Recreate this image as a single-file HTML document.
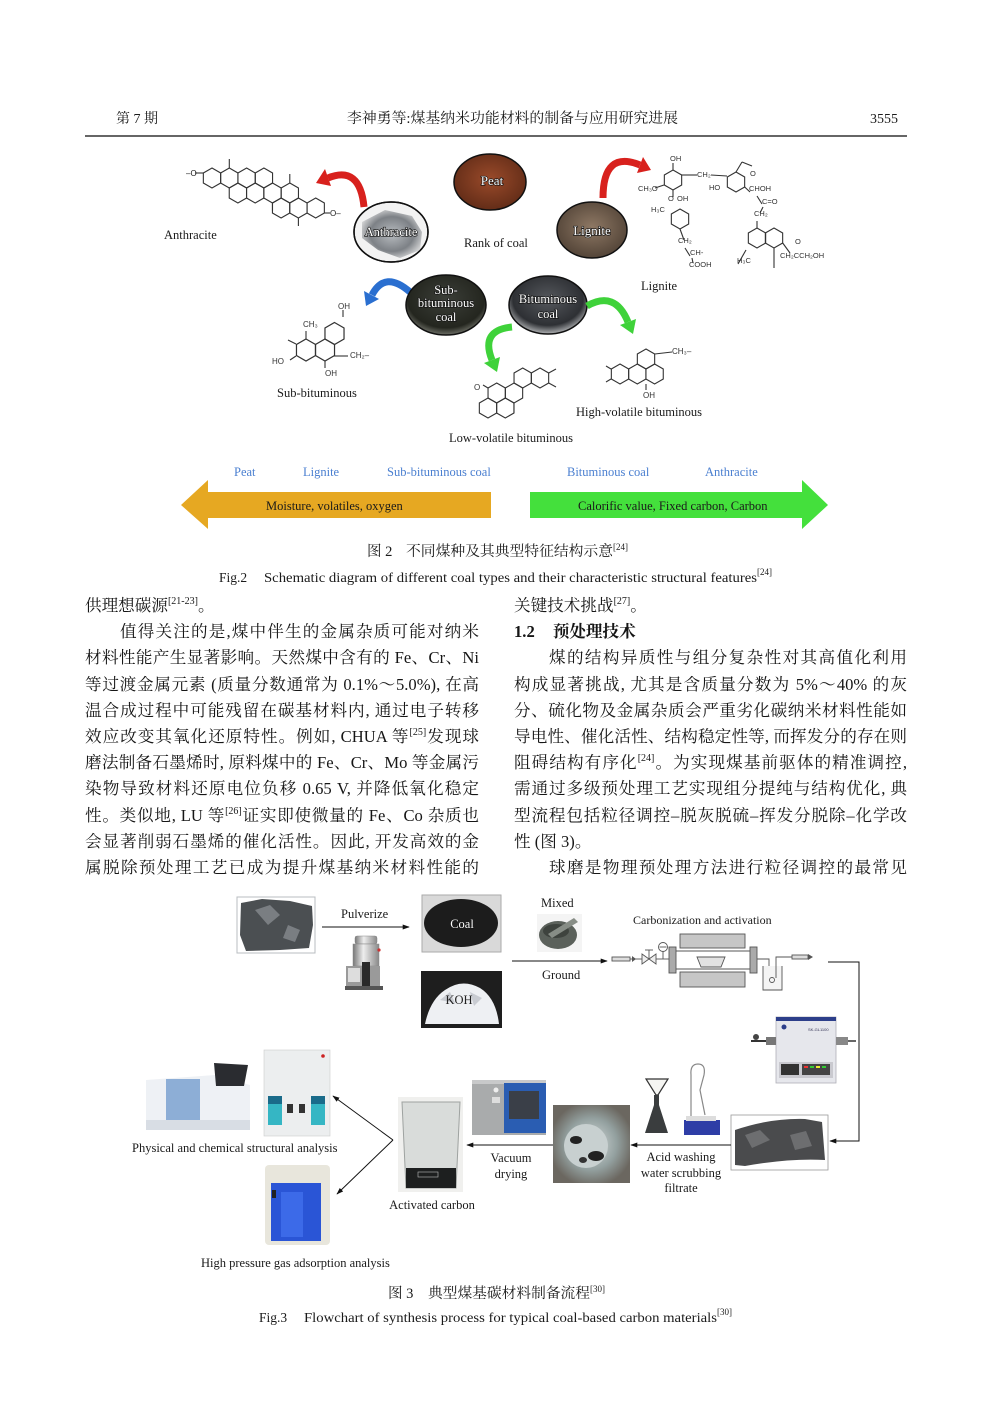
<!DOCTYPE html>
<html><head><meta charset="utf-8">
<style>
html,body{margin:0;padding:0;background:#fff;}
body{width:992px;height:1403px;position:relative;overflow:hidden;}
svg{position:absolute;left:0;top:0;}
.col{position:absolute;top:593px;font-family:"Liberation Serif","Noto Serif CJK SC",serif;font-size:16.6px;line-height:26.2px;color:#161616;}
.col div{height:26.2px;text-align:justify;text-align-last:justify;}
.col div.l{text-align:left;text-align-last:left;}
.col div.i{text-indent:35px;}
.s{font-size:10px;position:relative;top:-7px;line-height:0;}
</style></head>
<body>
<svg width="992" height="1403" viewBox="0 0 992 1403" xmlns="http://www.w3.org/2000/svg" font-family="Liberation Serif, Noto Serif CJK SC, serif" fill="#1a1a1a">
<defs>
<polygon id="hx" points="0,-10 8.66,-5 8.66,5 0,10 -8.66,5 -8.66,-5" fill="none" stroke="#333" stroke-width="1.1"/>
<marker id="ah" viewBox="0 0 10 10" refX="9" refY="5" markerWidth="7" markerHeight="7" orient="auto"><path d="M0,1.5 L10,5 L0,8.5 z" fill="#111"/></marker>
<radialGradient id="gAnth" cx="50%" cy="50%" r="60%"><stop offset="0" stop-color="#b8bcc0"/><stop offset="0.6" stop-color="#7d8186"/><stop offset="1" stop-color="#e8e8e8"/></radialGradient>
<radialGradient id="gPeat" cx="50%" cy="45%" r="60%"><stop offset="0" stop-color="#9a4a2a"/><stop offset="1" stop-color="#5e2a16"/></radialGradient>
<radialGradient id="gLig" cx="50%" cy="45%" r="60%"><stop offset="0" stop-color="#8e7864"/><stop offset="1" stop-color="#4e4034"/></radialGradient>
<radialGradient id="gSub" cx="50%" cy="40%" r="60%"><stop offset="0" stop-color="#3b3e38"/><stop offset="0.8" stop-color="#24261f"/><stop offset="1" stop-color="#6d6f66"/></radialGradient>
<radialGradient id="gBit" cx="50%" cy="40%" r="60%"><stop offset="0" stop-color="#55585d"/><stop offset="0.75" stop-color="#2e3034"/><stop offset="1" stop-color="#b0b2b4"/></radialGradient>
<radialGradient id="gBeak" cx="50%" cy="50%" r="55%"><stop offset="0" stop-color="#d6dcdc"/><stop offset="0.6" stop-color="#93a09f"/><stop offset="1" stop-color="#6b6760"/></radialGradient>
<linearGradient id="gSil" x1="0" x2="1"><stop offset="0" stop-color="#777"/><stop offset="0.4" stop-color="#eee"/><stop offset="1" stop-color="#888"/></linearGradient>
</defs>

<!-- Header -->
<text x="116" y="123" font-size="14">第 7 期</text>
<text x="347" y="123" font-size="14.5" textLength="331" lengthAdjust="spacingAndGlyphs">李神勇等:煤基纳米功能材料的制备与应用研究进展</text>
<text x="898" y="123" font-size="14" text-anchor="end">3555</text>
<line x1="85" y1="136" x2="907" y2="136" stroke="#333" stroke-width="1.4"/>

<!-- ===== Figure 2 ===== -->
<g>
<use href="#hx" x="212" y="178"/><use href="#hx" x="229.3" y="178"/><use href="#hx" x="246.6" y="178"/><use href="#hx" x="263.9" y="178"/>
<use href="#hx" x="237.9" y="193"/><use href="#hx" x="255.2" y="193"/><use href="#hx" x="272.5" y="193"/><use href="#hx" x="289.8" y="193"/>
<use href="#hx" x="281.1" y="208"/><use href="#hx" x="298.4" y="208"/><use href="#hx" x="315.7" y="208"/>
<g stroke="#333" stroke-width="1.1"><line x1="229.3" y1="168" x2="229.3" y2="159"/><line x1="272.5" y1="203" x2="272.5" y2="211"/><line x1="289.8" y1="183" x2="289.8" y2="174"/><line x1="298.4" y1="218" x2="298.4" y2="226"/><line x1="195" y1="173" x2="203.3" y2="173"/><line x1="324.4" y1="213" x2="330" y2="213"/></g>
<text x="186" y="176" font-size="8" font-family="Liberation Sans, sans-serif">–O</text>
<text x="330" y="216" font-size="8" font-family="Liberation Sans, sans-serif">O–</text>
</g>
<text x="164" y="239" font-size="12.5">Anthracite</text>

<path d="M364,207 Q360,165 328,178" fill="none" stroke="#d8211d" stroke-width="7"/>
<polygon points="316,183 331,186 325,169" fill="#d8211d"/>

<ellipse cx="391" cy="232" rx="37" ry="30" fill="#f2f2f2" stroke="#111" stroke-width="1.5"/>
<path d="M362,222 L385,210 L412,216 L422,232 L420,250 L400,258 L378,250 L362,238 z" fill="url(#gAnth)"/>
<ellipse cx="391" cy="232" rx="37" ry="30" fill="none" stroke="#111" stroke-width="1.5"/>
<text x="391" y="236" font-size="12.5" text-anchor="middle" fill="#fff" stroke="#111" stroke-width="1.2" paint-order="stroke">Anthracite</text>

<ellipse cx="490" cy="182" rx="36" ry="28" fill="url(#gPeat)" stroke="#111" stroke-width="1.5"/>
<text x="492" y="185" font-size="13" text-anchor="middle" fill="#fff" stroke="#111" stroke-width="1.2" paint-order="stroke">Peat</text>
<text x="464" y="247" font-size="12.5">Rank of coal</text>

<ellipse cx="592" cy="230" rx="35" ry="28" fill="url(#gLig)" stroke="#111" stroke-width="1.5"/>
<text x="592" y="235" font-size="13" text-anchor="middle" fill="#fff" stroke="#111" stroke-width="1.2" paint-order="stroke">Lignite</text>

<path d="M603,198 Q603,150 640,165" fill="none" stroke="#d8211d" stroke-width="7"/>
<polygon points="651,170 637,173 643,157" fill="#d8211d"/>

<g font-family="Liberation Sans, sans-serif" font-size="7.5" fill="#333">
<use href="#hx" x="673" y="180"/><use href="#hx" x="680" y="219"/><use href="#hx" x="736" y="182"/><use href="#hx" x="757" y="238"/><use href="#hx" x="774" y="238"/>
<g stroke="#333" stroke-width="1.1">
<line x1="673" y1="170" x2="673" y2="163"/><line x1="681.7" y1="175" x2="697" y2="175"/><line x1="711" y1="175" x2="727" y2="176"/>
<line x1="664" y1="185" x2="655" y2="188"/><line x1="673" y1="190" x2="673" y2="197"/><line x1="680" y1="229" x2="684" y2="240"/>
<line x1="685" y1="248" x2="690" y2="256"/><line x1="692" y1="258" x2="693" y2="263"/>
<line x1="744.7" y1="187" x2="750" y2="192"/><line x1="757" y1="196" x2="762" y2="204"/><line x1="763" y1="207" x2="760" y2="213"/>
<line x1="757" y1="221" x2="757" y2="228"/><line x1="782.7" y1="243" x2="790" y2="253"/><line x1="774" y1="248" x2="774" y2="268"/>
<line x1="746" y1="250" x2="738" y2="264"/><line x1="736" y1="172" x2="742" y2="162"/><line x1="742" y1="162" x2="752" y2="166"/>
</g>
<text x="670" y="161">OH</text>
<text x="697" y="177">CH₂</text>
<text x="638" y="191">CH₃O</text>
<text x="668" y="201">O</text><text x="677" y="201">OH</text>
<text x="651" y="212">H₃C</text>
<text x="678" y="243">CH₂</text>
<text x="690" y="255">CH-</text>
<text x="689" y="267">COOH</text>
<text x="709" y="190">HO</text>
<text x="750" y="176">O</text>
<text x="749" y="191">CHOH</text>
<text x="762" y="204">C=O</text>
<text x="754" y="216">CH₂</text>
<text x="795" y="244">O</text>
<text x="780" y="258">CH₂CCH₂OH</text>
<text x="737" y="263">H₃C</text>
</g>
<text x="641" y="290" font-size="12.5">Lignite</text>

<path d="M410,292 Q385,270 372,295" fill="none" stroke="#2a6fd0" stroke-width="7"/>
<polygon points="366,306 379,299 364,291" fill="#2a6fd0"/>

<ellipse cx="446" cy="305" rx="40" ry="30" fill="url(#gSub)" stroke="#111" stroke-width="1.5"/>
<g font-size="12.5" text-anchor="middle" fill="#fff" stroke="#111" stroke-width="1.2" paint-order="stroke">
<text x="446" y="294">Sub-</text><text x="446" y="307">bituminous</text><text x="446" y="321">coal</text></g>

<ellipse cx="548" cy="305" rx="39" ry="29" fill="url(#gBit)" stroke="#111" stroke-width="1.5"/>
<g font-size="12.5" text-anchor="middle" fill="#fff" stroke="#111" stroke-width="1.2" paint-order="stroke">
<text x="548" y="303">Bituminous</text><text x="548" y="318">coal</text></g>

<path d="M512,327 Q480,330 492,360" fill="none" stroke="#3fd23a" stroke-width="7"/>
<polygon points="497,372 500,357 484,363" fill="#3fd23a"/>
<path d="M587,306 Q615,290 628,322" fill="none" stroke="#3fd23a" stroke-width="7"/>
<polygon points="633,334 636,319 620,325" fill="#3fd23a"/>

<g>
<use href="#hx" x="306" y="350" transform="translate(306,350) scale(1.1) translate(-306,-350)"/>
<use href="#hx" x="325" y="350" transform="translate(325,350) scale(1.1) translate(-325,-350)"/>
<use href="#hx" x="334.5" y="333.5" transform="translate(334.5,333.5) scale(1.1) translate(-334.5,-333.5)"/>
<g stroke="#333" stroke-width="1.1"><line x1="343" y1="317" x2="343" y2="310"/><line x1="306" y1="339" x2="306" y2="331"/><line x1="296" y1="344" x2="288" y2="340"/><line x1="296" y1="356" x2="290" y2="360"/><line x1="334" y1="356" x2="348" y2="356"/><line x1="325" y1="361" x2="325" y2="368"/></g>
<g font-family="Liberation Sans, sans-serif" font-size="8" fill="#333">
<text x="338" y="309">OH</text><text x="303" y="327">CH₃</text><text x="272" y="364">HO</text><text x="350" y="358">CH₂–</text><text x="325" y="376">OH</text></g>
</g>
<text x="277" y="397" font-size="12.5">Sub-bituminous</text>

<g>
<use href="#hx" x="488" y="408"/><use href="#hx" x="496.7" y="393"/><use href="#hx" x="514" y="393"/><use href="#hx" x="505.3" y="408"/><use href="#hx" x="522.7" y="378"/><use href="#hx" x="540" y="378"/>
<g stroke="#333" stroke-width="1.1"><line x1="488" y1="388" x2="483" y2="385"/><line x1="514" y1="403" x2="514" y2="413"/><line x1="548.7" y1="373" x2="556" y2="369"/><line x1="548.7" y1="383" x2="556" y2="387"/></g>
<text x="474" y="390" font-size="8" font-family="Liberation Sans, sans-serif" fill="#333">O</text>
</g>
<text x="449" y="442" font-size="12.5">Low-volatile bituminous</text>

<g>
<use href="#hx" x="620" y="374"/><use href="#hx" x="637.3" y="374"/><use href="#hx" x="646" y="359"/><use href="#hx" x="654.6" y="374"/>
<g stroke="#333" stroke-width="1.1"><line x1="611" y1="369" x2="606" y2="366"/><line x1="611" y1="379" x2="606" y2="382"/><line x1="654.7" y1="354" x2="672" y2="352"/><line x1="646" y1="384" x2="646" y2="390"/></g>
<g font-family="Liberation Sans, sans-serif" font-size="8" fill="#333"><text x="672" y="354">CH₃–</text><text x="643" y="398">OH</text></g>
</g>
<text x="576" y="416" font-size="12.5">High-volatile bituminous</text>

<g font-size="12.5" fill="#4a7fd0">
<text x="234" y="476">Peat</text><text x="303" y="476">Lignite</text><text x="387" y="476">Sub-bituminous coal</text><text x="567" y="476">Bituminous coal</text><text x="705" y="476">Anthracite</text></g>

<polygon points="181,505 208,480 208,492 491,492 491,518 208,518 208,529" fill="#e6a822"/>
<polygon points="530,492 802,492 802,480 828,505 802,529 802,518 530,518" fill="#44e03c"/>
<text x="266" y="510" font-size="12.5">Moisture, volatiles, oxygen</text>
<text x="578" y="510" font-size="12.5">Calorific value, Fixed carbon, Carbon</text>

<text x="367" y="556" font-size="14.5">图 2</text>
<text x="406" y="556" font-size="14.5" textLength="207" lengthAdjust="spacingAndGlyphs">不同煤种及其典型特征结构示意</text>
<text x="613" y="550" font-size="9">[24]</text>
<text x="219" y="582" font-size="13.5">Fig.2</text>
<text x="264" y="582" font-size="13.5" textLength="493" lengthAdjust="spacingAndGlyphs">Schematic diagram of different coal types and their characteristic structural features</text>
<text x="757" y="575" font-size="9">[24]</text>

<!-- ===== Figure 3 ===== -->
<rect x="237" y="897" width="78" height="56" fill="#fff" stroke="#b8bcc0" stroke-width="1"/>
<path d="M241,903 L262,899 L290,901 L312,906 L313,925 L309,948 L280,950 L246,951 L240,935 z" fill="#4b4f52"/>
<path d="M255,910 L270,905 L280,915 L268,925 z M288,925 L300,930 L295,942 L283,938 z" fill="#7a7e82"/>
<text x="341" y="918" font-size="12.5">Pulverize</text>
<line x1="322" y1="927" x2="409" y2="927" stroke="#111" stroke-width="1" marker-end="url(#ah)"/>
<rect x="355" y="936" width="22" height="8" rx="2" fill="url(#gSil)" stroke="#888" stroke-width="0.5"/>
<rect x="353" y="944" width="26" height="22" fill="url(#gSil)" stroke="#888" stroke-width="0.5"/>
<rect x="346" y="966" width="34" height="20" fill="#9a9a9a"/>
<rect x="348" y="968" width="12" height="14" fill="#ddd"/>
<rect x="362" y="962" width="8" height="26" fill="#2a2a2a"/>
<rect x="345" y="986" width="38" height="4" fill="#555"/>
<circle cx="379" cy="950" r="1.6" fill="#c33"/>
<rect x="422" y="895" width="79" height="57" fill="#d9d9d9" stroke="#aaa" stroke-width="1"/>
<ellipse cx="461" cy="923" rx="37" ry="24" fill="#1c1c1c"/>
<text x="462" y="928" font-size="12.5" text-anchor="middle" fill="#fff" stroke="#111" stroke-width="0.9" paint-order="stroke">Coal</text>
<rect x="421" y="971" width="81" height="57" fill="#1e1e1e"/>
<path d="M425,1024 Q430,1000 445,990 Q462,978 480,988 Q496,998 499,1024 z" fill="#eef0f3"/>
<path d="M440,1000 L450,992 L455,1003 z M470,992 L482,998 L474,1006 z" fill="#c9ccd2"/>
<text x="459" y="1004" font-size="12.5" text-anchor="middle" fill="#222">KOH</text>
<text x="541" y="907" font-size="12.5">Mixed</text>
<rect x="537" y="914" width="45" height="38" fill="#f4f4f4"/>
<ellipse cx="558" cy="935" rx="19" ry="14" fill="#5b615b"/>
<ellipse cx="556" cy="931" rx="13" ry="7" fill="#3e433e"/>
<path d="M548,934 L574,918 L578,922 L552,938 z" fill="#878d86"/>
<line x1="512" y1="961" x2="607" y2="961" stroke="#111" stroke-width="1" marker-end="url(#ah)"/>
<text x="542" y="979" font-size="12.5">Ground</text>
<text x="633" y="924" font-size="12">Carbonization and activation</text>
<g stroke="#555" stroke-width="0.9">
<rect x="612" y="957" width="18" height="4" fill="#ddd"/>
<line x1="630" y1="959" x2="642" y2="959"/>
<polygon points="642,954 656,964 656,954 642,964" fill="#eee"/>
<line x1="649" y1="959" x2="649" y2="950"/><line x1="645" y1="950" x2="653" y2="950"/>
<line x1="656" y1="959" x2="669" y2="959"/>
<circle cx="663" cy="947" r="4.5" fill="#fff"/><line x1="663" y1="951.5" x2="663" y2="959"/><line x1="659.5" y1="947" x2="666.5" y2="947"/>
<rect x="669" y="947" width="7" height="26" fill="#aaa"/>
<rect x="750" y="947" width="7" height="26" fill="#aaa"/>
<line x1="676" y1="951" x2="750" y2="951"/><line x1="676" y1="969" x2="750" y2="969"/>
<rect x="680" y="934" width="65" height="14" fill="#c6c6c6"/>
<rect x="680" y="972" width="65" height="15" fill="#c6c6c6"/>
<path d="M697,957 L725,957 L721,967 L701,967 z" fill="#e2e2e2"/>
<path d="M757,959 L769,959 L769,980" fill="none"/>
<path d="M763,966 L763,990 L782,990 L782,966" fill="#f4f4f4"/>
<path d="M776,978 L776,957 L792,957" fill="none"/>
<rect x="792" y="955" width="16" height="4" fill="#ddd"/>
<circle cx="772" cy="980" r="2.5" fill="none"/>
</g>
<polygon points="632,956 636,959 632,962" fill="#555"/>
<polygon points="808,954 813,957 808,960" fill="#555"/>
<polyline points="828,962 859,962 859,1141 830,1141" fill="none" stroke="#111" stroke-width="1" marker-end="url(#ah)"/>
<rect x="776" y="1017" width="60" height="66" fill="#e6e7ec" stroke="#b0b0b8" stroke-width="0.8"/>
<rect x="776" y="1017" width="60" height="4" fill="#2d3f8a"/>
<circle cx="784" cy="1027" r="2.5" fill="#2d3f8a"/>
<text x="808" y="1031" font-size="4" font-family="Liberation Sans, sans-serif" fill="#335">SK-GL1100</text>
<rect x="779" y="1062" width="54" height="16" fill="#c9c9cf"/>
<rect x="781" y="1064" width="18" height="11" fill="#333"/>
<rect x="802" y="1064" width="28" height="11" fill="#444"/>
<rect x="804" y="1066" width="4" height="2" fill="#e33"/><rect x="810" y="1066" width="4" height="2" fill="#3c3"/><rect x="816" y="1066" width="4" height="2" fill="#ee3"/><rect x="822" y="1066" width="4" height="2" fill="#3c3"/>
<rect x="766" y="1037" width="10" height="8" fill="#777"/>
<rect x="836" y="1037" width="12" height="8" fill="#888"/>
<circle cx="756" cy="1037" r="3" fill="#444"/><line x1="751" y1="1041" x2="766" y2="1041" stroke="#333" stroke-width="2"/>
<line x1="848" y1="1041" x2="856" y2="1041" stroke="#333" stroke-width="1.5"/>
<rect x="731" y="1115" width="97" height="55" fill="#fff" stroke="#999" stroke-width="0.8"/>
<path d="M735,1130 Q770,1118 805,1119 L822,1122 L825,1160 Q790,1158 745,1166 L735,1165 z" fill="#4a4b4d"/>
<path d="M745,1135 L760,1130 L770,1140 L752,1148 z M790,1135 L806,1131 L812,1146 L795,1150 z" fill="#6d6e70"/>
<line x1="731" y1="1145" x2="631" y2="1145" stroke="#111" stroke-width="1" marker-end="url(#ah)"/>
<g font-size="12.5" text-anchor="middle"><text x="681" y="1161">Acid washing</text><text x="681" y="1177">water scrubbing</text><text x="681" y="1192">filtrate</text></g>
<path d="M646,1079 L668,1079 L658,1095 L656,1095 z" fill="#f5f5f2" stroke="#333" stroke-width="1.2"/>
<path d="M654,1095 L654,1105 L645,1133 L668,1133 L659,1105 L659,1095 z" fill="#3a3d3e"/>
<path d="M691,1118 L691,1075 Q690,1064 698,1064 Q706,1064 704,1075 L700,1090 L705,1115" fill="none" stroke="#888" stroke-width="1.2"/>
<rect x="684" y="1120" width="36" height="15" fill="#2e3da6"/>
<rect x="686" y="1116" width="30" height="5" fill="#ddd"/>
<rect x="553" y="1105" width="77" height="78" fill="url(#gBeak)"/>
<circle cx="586" cy="1146" r="22" fill="#c8d0d0"/>
<ellipse cx="576" cy="1140" rx="6" ry="4" fill="#222"/><ellipse cx="596" cy="1156" rx="8" ry="5" fill="#222"/><ellipse cx="583" cy="1160" rx="4" ry="3" fill="#333"/>
<line x1="553" y1="1145" x2="467" y2="1145" stroke="#111" stroke-width="1" marker-end="url(#ah)"/>
<g font-size="12.5" text-anchor="middle"><text x="511" y="1162">Vacuum</text><text x="511" y="1178">drying</text></g>
<rect x="472" y="1080" width="74" height="55" fill="#a9abac"/>
<rect x="472" y="1080" width="74" height="4" fill="#c8c9ca"/>
<rect x="504" y="1083" width="42" height="50" fill="#2a5db2"/>
<rect x="509" y="1091" width="30" height="28" fill="#3a3f48"/>
<rect x="492" y="1097" width="8" height="6" fill="#ddd"/>
<circle cx="496" cy="1090" r="2.5" fill="#eee"/>
<rect x="398" y="1097" width="65" height="95" fill="#f0f0ee"/>
<path d="M402,1102 L460,1102 L456,1188 L406,1188 z" fill="#d9dcda" stroke="#9ea2a0" stroke-width="1"/>
<rect x="406" y="1168" width="50" height="20" fill="#1d1f1f"/>
<rect x="418" y="1172" width="20" height="5" fill="none" stroke="#bbb" stroke-width="0.6"/>
<text x="432" y="1209" font-size="12.5" text-anchor="middle">Activated carbon</text>
<line x1="393" y1="1140" x2="333" y2="1096" stroke="#111" stroke-width="1" marker-end="url(#ah)"/>
<line x1="393" y1="1140" x2="337" y2="1194" stroke="#111" stroke-width="1" marker-end="url(#ah)"/>
<path d="M146,1080 L215,1075 L250,1085 L250,1128 L146,1130 z" fill="#eef1f5"/>
<rect x="166" y="1079" width="34" height="51" fill="#8daed6"/>
<rect x="146" y="1120" width="104" height="10" fill="#d8dde4"/>
<path d="M214,1063 L248,1065 L244,1086 L216,1086 z" fill="#2a2c30"/>
<rect x="264" y="1050" width="66" height="86" fill="#eceeef" stroke="#ccc" stroke-width="0.6"/>
<rect x="268" y="1096" width="14" height="29" fill="#35b6c4"/>
<rect x="311" y="1096" width="14" height="29" fill="#35b6c4"/>
<rect x="268" y="1096" width="14" height="8" fill="#1a6b8a"/><rect x="311" y="1096" width="14" height="8" fill="#1a6b8a"/>
<rect x="287" y="1104" width="6" height="9" fill="#333"/><rect x="299" y="1104" width="6" height="9" fill="#333"/>
<circle cx="323" cy="1056" r="1.8" fill="#c22"/>
<text x="132" y="1152" font-size="12.5">Physical and chemical structural analysis</text>
<rect x="265" y="1165" width="65" height="80" rx="4" fill="#e8e6dc"/>
<rect x="271" y="1183" width="50" height="58" fill="#2a55d6"/>
<rect x="281" y="1192" width="22" height="45" fill="#3c6ae8"/>
<rect x="272" y="1190" width="4" height="8" fill="#222"/>
<text x="201" y="1267" font-size="12.5">High pressure gas adsorption analysis</text>

<text x="388" y="1298" font-size="14.5">图 3</text>
<text x="428" y="1298" font-size="14.5" textLength="162" lengthAdjust="spacingAndGlyphs">典型煤基碳材料制备流程</text>
<text x="590" y="1292" font-size="9">[30]</text>
<text x="259" y="1322" font-size="13.5">Fig.3</text>
<text x="304" y="1322" font-size="13.5" textLength="413" lengthAdjust="spacingAndGlyphs">Flowchart of synthesis process for typical coal-based carbon materials</text>
<text x="717" y="1315" font-size="9">[30]</text>
</svg>

<div class="col" style="left:85px;width:394px;">
<div class="l">供理想碳源<span class="s">[21-23]</span>。</div>
<div class="i">值得关注的是,煤中伴生的金属杂质可能对纳米</div>
<div>材料性能产生显著影响。天然煤中含有的 Fe、Cr、Ni</div>
<div>等过渡金属元素 (质量分数通常为 0.1%～5.0%), 在高</div>
<div>温合成过程中可能残留在碳基材料内, 通过电子转移</div>
<div>效应改变其氧化还原特性。例如, CHUA 等<span class="s">[25]</span>发现球</div>
<div>磨法制备石墨烯时, 原料煤中的 Fe、Cr、Mo 等金属污</div>
<div>染物导致材料还原电位负移 0.65 V, 并降低氧化稳定</div>
<div>性。类似地, LU 等<span class="s">[26]</span>证实即使微量的 Fe、Co 杂质也</div>
<div>会显著削弱石墨烯的催化活性。因此, 开发高效的金</div>
<div>属脱除预处理工艺已成为提升煤基纳米材料性能的</div>
</div>

<div class="col" style="left:514px;width:393px;">
<div class="l">关键技术挑战<span class="s">[27]</span>。</div>
<div class="l" style="font-weight:bold;">1.2<span style="display:inline-block;width:18px;"></span>预处理技术</div>
<div class="i">煤的结构异质性与组分复杂性对其高值化利用</div>
<div>构成显著挑战, 尤其是含质量分数为 5%～40% 的灰</div>
<div>分、硫化物及金属杂质会严重劣化碳纳米材料性能如</div>
<div>导电性、催化活性、结构稳定性等, 而挥发分的存在则</div>
<div>阻碍结构有序化<span class="s">[24]</span>。为实现煤基前驱体的精准调控,</div>
<div>需通过多级预处理工艺实现组分提纯与结构优化, 典</div>
<div>型流程包括粒径调控–脱灰脱硫–挥发分脱除–化学改</div>
<div class="l">性 (图 3)。</div>
<div class="i">球磨是物理预处理方法进行粒径调控的最常见</div>
</div>
</body></html>
